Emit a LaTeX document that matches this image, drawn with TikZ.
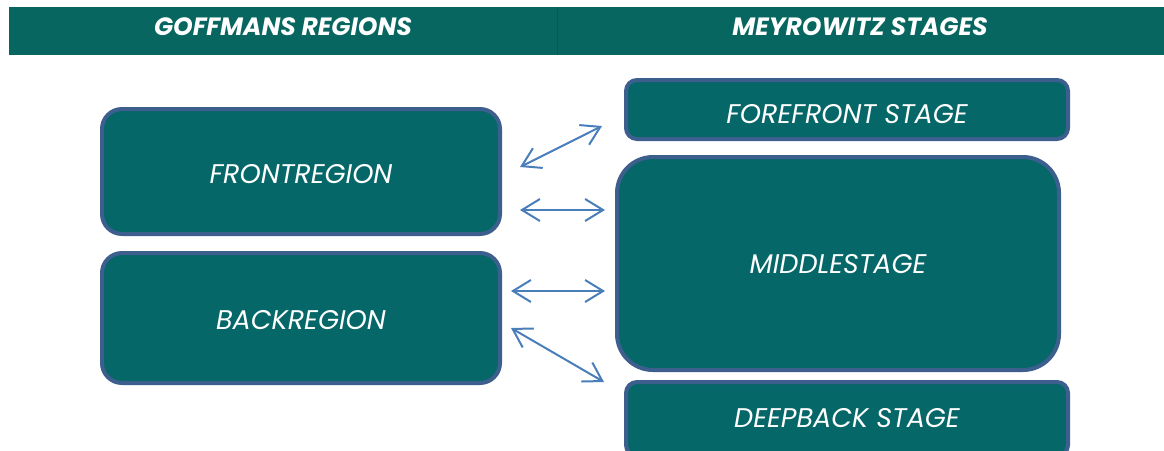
\documentclass[tikz,border=0pt]{standalone}
\usepackage{fontspec}
\setmainfont{Poppins}
\usetikzlibrary{arrows.meta}
\definecolor{teal}{HTML}{066769}
\definecolor{headteal}{HTML}{07665F}
\definecolor{divgreen}{HTML}{0A5A45}
\definecolor{rim}{HTML}{3C5F8D}
\definecolor{arrowblue}{HTML}{4A7EBB}
\tikzset{
  header/.style={fill=headteal, draw=none, minimum height=48, inner sep=0,
    font=\fontsize{25}{25}\selectfont\bfseries\itshape, text=white},
  stagebox/.style={fill=teal, draw=rim, line width=4, inner sep=0},
  boxlabel/.style={inner sep=0, font=\fontsize{27}{27}\selectfont\itshape, text=white},
  link/.style={draw=arrowblue, line width=2,
    {Straight Barb[length=18,width=22,line width=2]}-{Straight Barb[length=18,width=22,line width=2]}}
}
\begin{document}
\begin{tikzpicture}[x=1pt,y=-1pt]
\useasboundingbox (0,0) rectangle (1164,450);
\clip (0,0) rectangle (1164,450);
% header band
\node[header, minimum width=548] (hleft) at (283,31) {};
\node[header, minimum width=607] (hright) at (860.5,31) {};
\node[header, fill=none] (tleft) at (283,27) {GOFFMANS REGIONS};
\node[header, fill=none] (tright) at (860,27) {MEYROWITZ STAGES};
\draw[divgreen, line width=1] (hleft.north east) -- (hleft.south east);
% Goffman regions
\node[stagebox, rounded corners=20, minimum width=398, minimum height=125] (front) at (301,171.5) {};
\node[stagebox, rounded corners=20, minimum width=398, minimum height=130] (back) at (301,318) {};
% Meyrowitz stages
\node[stagebox, rounded corners=11, minimum width=442, minimum height=59] (forefront) at (847,109.5) {};
\node[stagebox, rounded corners=36, minimum width=442, minimum height=213] (middle) at (838,263.5) {};
\node[stagebox, rounded corners=11, minimum width=442, minimum height=74] (deepback) at (847,419) {};
% box labels
\node[boxlabel] (frontlabel) at (301,174) {FRONTREGION};
\node[boxlabel] (backlabel) at (301,320) {BACKREGION};
\node[boxlabel] (forelabel) at (847,114) {FOREFRONT STAGE};
\node[boxlabel] (middlelabel) at (838,264) {MIDDLESTAGE};
\node[boxlabel] (deeplabel) at (847,418) {DEEPBACK STAGE};
% connector end points
\coordinate (a1s) at (520,167);
\coordinate (a1e) at (602,126);
\coordinate (a2s) at (520,210);
\coordinate (a2e) at (605,210);
\coordinate (a3s) at (511,291);
\coordinate (a3e) at (605,291);
\coordinate (a4s) at (511,328);
\coordinate (a4e) at (604,382);
\draw[link] (a1s) -- (a1e);
\draw[link] (a2s) -- (a2e);
\draw[link] (a3s) -- (a3e);
\draw[link] (a4s) -- (a4e);
\end{tikzpicture}
\end{document}
